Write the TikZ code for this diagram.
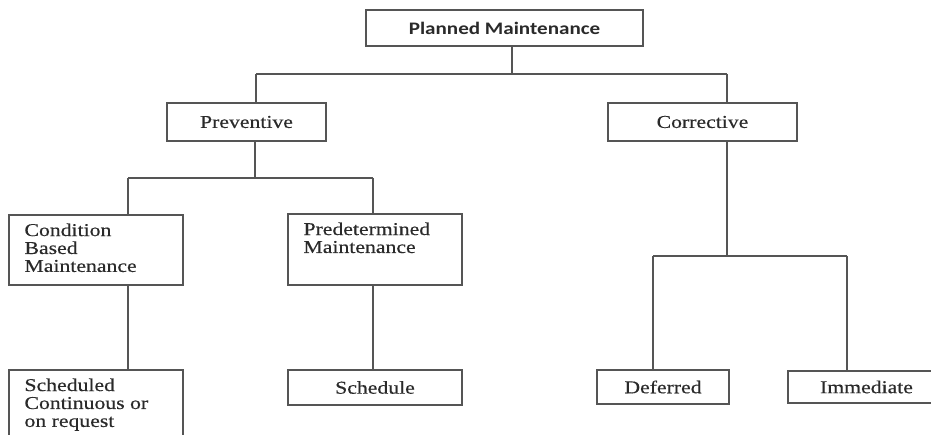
\documentclass[tikz,border=0pt]{standalone}
\usepackage{fontspec}
\setmainfont{Liberation Serif}[FakeStretch=1.2,FakeBold=0.4]
\newfontfamily\headfont{Carlito}[FakeStretch=1.2]
\pgfdeclarelayer{edgelayer}
\pgfdeclarelayer{nodelayer}
\pgfsetlayers{edgelayer,nodelayer,main}
\definecolor{inkgrey}{HTML}{555555}
\definecolor{textgrey}{HTML}{2A2A2A}
\newcommand{\toptext}[3]{\parbox[c][#1][t]{#2}{\raggedright #3}}
\tikzstyle{block}=[rectangle,fill=white,draw=inkgrey,line width=1pt,inner sep=0pt,text=textgrey,font=\fontsize{10.3}{10.2}\selectfont]
\tikzstyle{note}=[style=block,inner xsep=0.31cm,inner ysep=0.17cm]
\tikzstyle{branch}=[draw=inkgrey,line width=1pt]

\begin{document}
\begin{tikzpicture}[x=0.02cm,y=-0.02cm]
	\useasboundingbox (0,0) rectangle (931,435);
	\begin{pgfonlayer}{nodelayer}
		\node [style=block, minimum width=5.54cm, minimum height=0.72cm, font=\headfont\bfseries\fontsize{10}{11}\selectfont] (0) at (504.5,28) {Planned Maintenance};
		\node [style=block, minimum width=3.18cm, minimum height=0.76cm] (1) at (246.5,122) {Preventive};
		\node [style=block, minimum width=3.78cm, minimum height=0.76cm] (2) at (702.5,122) {Corrective};
		\node [style=note] (3) at (96,250) {\toptext{1.06cm}{2.86cm}{Condition\\Based\\Maintenance}};
		\node [style=note] (4) at (375,249.5) {\toptext{1.08cm}{2.86cm}{Predetermined\\Maintenance}};
		\node [style=note] (5) at (96,410) {\toptext{1.26cm}{2.86cm}{Scheduled\\Continuous or\\on request}};
		\node [style=block, minimum width=3.48cm, minimum height=0.70cm] (6) at (375,387.5) {Schedule};
		\node [style=block, minimum width=2.64cm, minimum height=0.68cm] (7) at (663,387) {Deferred};
		\node [style=block, minimum width=3.14cm, minimum height=0.64cm] (8) at (866.5,387) {Immediate};
	\end{pgfonlayer}
	\begin{pgfonlayer}{edgelayer}
		\coordinate (a) at (512,74);
		\coordinate (a1) at (256,74);
		\coordinate (a2) at (727,74);
		\coordinate (b) at (255,178);
		\coordinate (b1) at (128,178);
		\coordinate (b2) at (373,178);
		\coordinate (c) at (727,256);
		\coordinate (c1) at (653,256);
		\coordinate (c2) at (847,256);
		\draw [style=branch] (0.south -| a) -- (a);
		\draw [style=branch] (a1) -- (a2);
		\draw [style=branch] (a1) -- (1.north -| a1);
		\draw [style=branch] (a2) -- (2.north -| a2);
		\draw [style=branch] (1.south -| b) -- (b);
		\draw [style=branch] (b1) -- (b2);
		\draw [style=branch] (b1) -- (3.north -| b1);
		\draw [style=branch] (b2) -- (4.north -| b2);
		\draw [style=branch] (3.south -| b1) -- (5.north -| b1);
		\draw [style=branch] (4.south -| b2) -- (6.north -| b2);
		\draw [style=branch] (2.south -| c) -- (c);
		\draw [style=branch] (c1) -- (c2);
		\draw [style=branch] (c1) -- (7.north -| c1);
		\draw [style=branch] (c2) -- (8.north -| c2);
	\end{pgfonlayer}
\end{tikzpicture}
\end{document}
